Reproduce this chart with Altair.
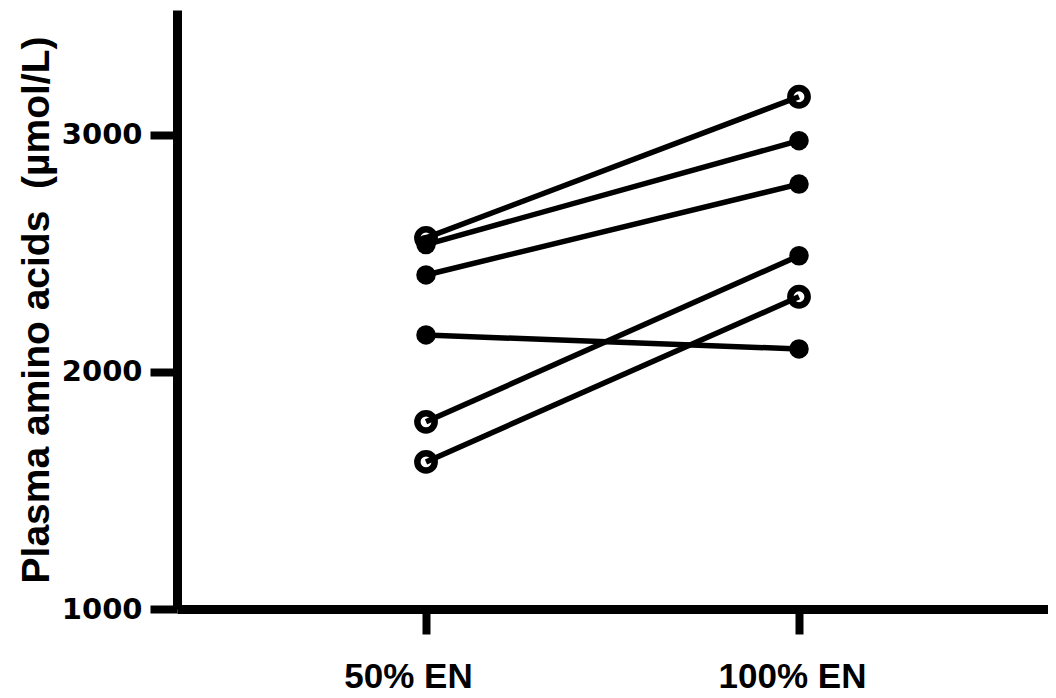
import altair as alt
import pandas as pd

categories = ["50% EN", "100% EN"]
subjects = ["S1", "S2", "S3", "S4", "S5", "S6"]
en50 = [2564, 2536, 2408, 2155, 1789, 1620]
en100 = [3159, 2974, 2791, 2096, 2489, 2316]
open50 = [True, False, False, False, True, True]
open100 = [True, False, False, False, False, True]
y_ticks = [1000, 2000, 3000]

rows = []
for i, s in enumerate(subjects):
    rows.append(dict(subject=s, pos=0, value=en50[i], style="open" if open50[i] else "filled"))
    rows.append(dict(subject=s, pos=1, value=en100[i], style="open" if open100[i] else "filled"))
df = pd.DataFrame(rows)

label_expr = f"datum.value == 0 ? '{categories[0]}' : '{categories[1]}'"

x = alt.X(
    "pos:Q",
    scale=alt.Scale(domain=[-0.6676, 1.6676], nice=False, zero=False),
    axis=alt.Axis(
        values=[0, 1],
        labelExpr=label_expr,
        title=None,
        grid=False,
        tickSize=25,
        tickWidth=8,
        domainWidth=9,
        labelPadding=25,
        labelFont="Liberation Sans",
        labelFontWeight="bold",
        labelFontSize=35,
        labelOffset={"condition": {"test": "datum.value == 0", "value": -18}, "value": -7},
    ),
)
y = alt.Y(
    "value:Q",
    scale=alt.Scale(domain=[1000, 3524.8], nice=False, zero=False),
    axis=alt.Axis(
        values=y_ticks,
        format="d",
        title="Plasma amino acids\u00a0\u00a0(µmol/L)",
        grid=False,
        tickSize=27,
        tickWidth=8,
        domainWidth=9,
        labelPadding=8,
        labelFont="DejaVu Sans",
        labelFontWeight="bold",
        labelFontSize=29,
        titleFont="Liberation Sans",
        titleFontWeight="bold",
        titleFontSize=39,
        titlePadding=5,
    ),
)

base = alt.Chart(df)
lines = base.mark_line(color="black", strokeWidth=5.5).encode(x=x, y=y, detail="subject:N")
filled = base.transform_filter("datum.style == 'filled'").mark_circle(
    size=380, color="black", opacity=1
).encode(x=x, y=y)
opened = base.transform_filter("datum.style == 'open'").mark_point(
    size=300, filled=False, color="black", strokeWidth=6.5, opacity=1
).encode(x=x, y=y)

chart = (
    alt.layer(lines, filled, opened)
    .properties(
        width=871,
        height=599,
        padding={"left": 169, "top": 2, "right": 0, "bottom": 88},
        autosize=alt.AutoSizeParams(type="none"),
        background="white",
    )
    .configure_view(stroke=None)
    .configure_axis(domainColor="black", tickColor="black", labelColor="black", titleColor="black")
)

chart.save("out.html", embed_options={"renderer": "svg", "actions": False})
